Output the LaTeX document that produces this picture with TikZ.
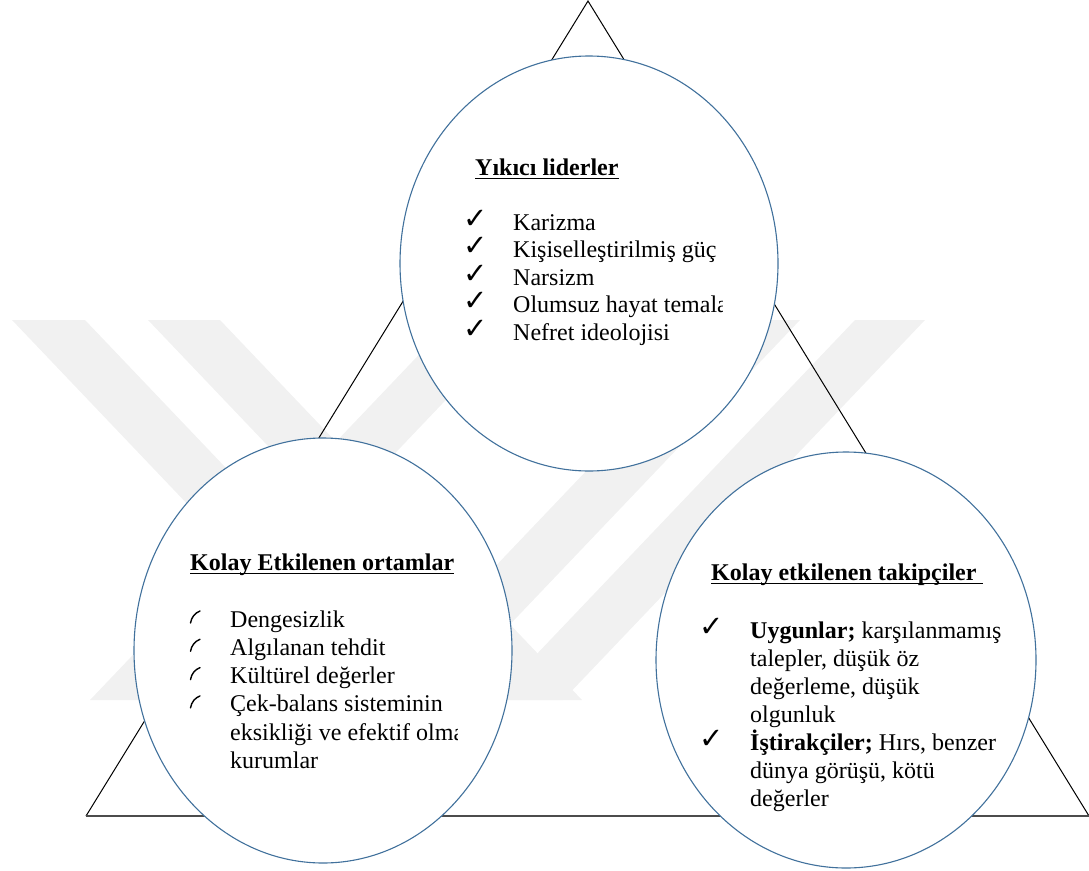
\documentclass[tikz,border=0pt]{standalone}
\usepackage{fontspec}
\setmainfont{Liberation Serif}
\newfontfamily\isaretfont{DejaVu Sans}
\usetikzlibrary{shapes.geometric}

\definecolor{halka}{RGB}{65,113,156}
\definecolor{filigran}{RGB}{241,241,241}

% altı çizili kalın başlık
\newcommand\baslik[1]{\setbox0\hbox{\bfseries #1}\rlap{\rule[-4.2pt]{\wd0}{1.6pt}}\box0}

\tikzset{
  daire/.style={ellipse, draw=halka, line width=1.1pt, fill=white, inner sep=0pt},
  yazi/.style={anchor=base west, inner sep=0pt, font=\fontsize{24}{27.6}\selectfont},
  isaret/.style={anchor=base west, inner sep=0pt, font=\isaretfont\fontsize{29}{32}\selectfont},
  kenar/.style={line width=1pt},
  taban/.style={line width=1.6pt, black!70},
  bant/.style={fill=filigran, draw=none},
  kirik/.style={line width=1.4pt, line cap=round}
}

\begin{document}
\begin{tikzpicture}[x=1pt, y=-1pt]
    \useasboundingbox (0,0) rectangle (1089,870);

    % filigran
    \fill[bant] (12,320) -- (85,320) -- (447,700) -- (374,700) -- cycle;
    \fill[bant] (148,320) -- (220,320) -- (582,700) -- (510,700) -- cycle;
    \fill[bant] (90,700) -- (160,700) -- (522,320) -- (452,320) -- cycle;
    \fill[bant] (368,700) -- (438,700) -- (800,320) -- (730,320) -- cycle;
    \fill[bant] (493,700) -- (563,700) -- (925,320) -- (855,320) -- cycle;

    % üçgen
    \coordinate (tepe) at (588,1);
    \coordinate (sol) at (86,816);
    \coordinate (sag) at (1089,816);
    \draw[kenar] (sol) -- (tepe) -- (sag);
    \draw[taban] (sol) -- (sag);

    % daireler
    \node[daire, minimum width=378pt, minimum height=415pt] (lider) at (589,263.5) {};
    \node[daire, minimum width=378pt, minimum height=425pt] (ortam) at (323,650.5) {};
    \node[daire, minimum width=380pt, minimum height=416pt] (takip) at (846,660) {};

    % Yıkıcı liderler
    \node[yazi] (liderbaslik) at (475,175) {\baslik{Yıkıcı liderler}};
    \begin{scope}
      \clip (400,190) rectangle (722,360);
      \foreach \satir [count=\i from 0] in {Karizma, Kişiselleştirilmiş güç, Narsizm, Olumsuz hayat temaları, Nefret ideolojisi} {
        \node[isaret] (liderisaret\i) at (463,{228+27.5*\i}) {✓};
        \node[yazi] (lidersatir\i) at (513,{230+27.5*\i}) {\satir};
      }
    \end{scope}

    % Kolay Etkilenen ortamlar
    \node[yazi] (ortambaslik) at (190,570) {\baslik{Kolay Etkilenen ortamlar}};
    \foreach \y in {623,651.3,679.6,707.9}
      \draw[kirik] (190.5,\y) .. controls (191.5,{\y-6}) and (195,{\y-10}) .. (200,{\y-12});
    \begin{scope}
      \clip (180,590) rectangle (457,790);
      \foreach \satir [count=\i from 0] in {Dengesizlik, Algılanan tehdit, Kültürel değerler, Çek-balans sisteminin, eksikliği ve efektif olmayan, kurumlar} {
        \node[yazi] (ortamsatir\i) at (230,{627+28.3*\i}) {\satir};
      }
    \end{scope}

    % Kolay etkilenen takipçiler
    \node[yazi] (takipbaslik) at (711,580) {\baslik{Kolay etkilenen takipçiler\ }};
    \node[isaret] (takipisaret0) at (699,636) {✓};
    \node[isaret] (takipisaret1) at (699,748) {✓};
    \node[yazi] (takipsatir0) at (750,638) {\textbf{Uygunlar;} karşılanmamış};
    \node[yazi] (takipsatir1) at (750,666) {talepler, düşük öz};
    \node[yazi] (takipsatir2) at (750,694) {değerleme, düşük};
    \node[yazi] (takipsatir3) at (750,722) {olgunluk};
    \node[yazi] (takipsatir4) at (750,750) {\textbf{İştirakçiler;} Hırs, benzer};
    \node[yazi] (takipsatir5) at (750,778) {dünya görüşü, kötü};
    \node[yazi] (takipsatir6) at (750,806) {değerler};
\end{tikzpicture}
\end{document}
